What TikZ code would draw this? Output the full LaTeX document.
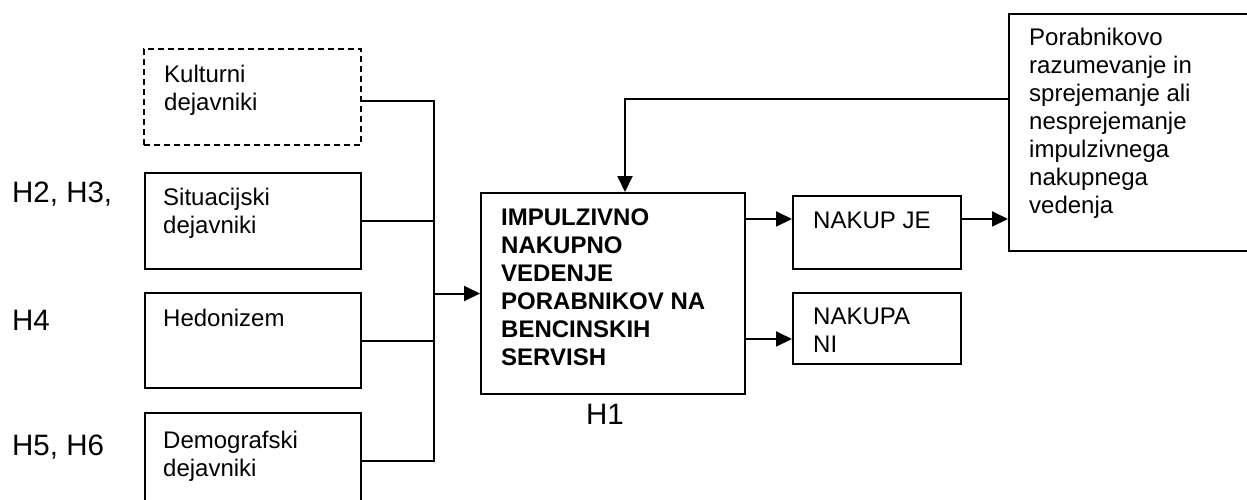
\documentclass[tikz,border=0pt]{standalone}
\usepackage{fontspec}
\setmainfont{Liberation Sans}
\usetikzlibrary{arrows.meta}
\begin{document}
\begin{tikzpicture}[x=1pt,y=-1pt,
 box/.style={draw, line width=2pt, inner sep=0pt, anchor=north west},
 txt/.style={anchor=north west, inner sep=0pt, align=left, font=\fontsize{24}{28}\selectfont},
 hlab/.style={anchor=base west, inner sep=0pt, font=\fontsize{29.5}{34}\selectfont},
 conn/.style={line width=2pt},
 arr/.style={conn, -{Triangle[length=16pt,width=15pt]}}]
\useasboundingbox (0,0) rectangle (1247,499);
\clip (0,0) rectangle (1247,499);
% boxes
\node[box, dash pattern=on 6pt off 4pt, minimum width=217pt, minimum height=96pt] (kult) at (143,48) {};
\node[box, minimum width=216pt, minimum height=96pt] (sit) at (144,172) {};
\node[box, minimum width=216pt, minimum height=95pt] (hed) at (144,292) {};
\node[box, minimum width=216pt, minimum height=96pt] (dem) at (144,412) {};
\node[box, minimum width=264pt, minimum height=201pt] (main) at (480,192) {};
\node[box, minimum width=168pt, minimum height=73pt] (je) at (792,195) {};
\node[box, minimum width=168pt, minimum height=71pt] (ni) at (792,292) {};
\node[box, minimum width=300pt, minimum height=237pt] (por) at (1008,13) {};
% texts
\node[txt] (tkult) at (164,65) {Kulturni\\dejavniki};
\node[txt] (tsit) at (163,188) {Situacijski\\dejavniki};
\node[txt] (thed) at (163,309) {Hedonizem};
\node[txt] (tdem) at (163,431) {Demografski\\dejavniki};
\node[txt, font=\fontsize{24}{28}\selectfont\bfseries] (tmain) at (501,209) {IMPULZIVNO\\NAKUPNO\\VEDENJE\\PORABNIKOV NA\\BENCINSKIH\\SERVISH};
\node[txt] (tje) at (813,212) {NAKUP JE};
\node[txt] (tni) at (813,308) {NAKUPA\\NI};
\node[txt] (tpor) at (1029,28) {Porabnikovo\\razumevanje in\\sprejemanje ali\\nesprejemanje\\impulzivnega\\nakupnega\\vedenja};
% hypothesis labels
\node[hlab] (h23) at (12,202) {H2, H3,};
\node[hlab] (h4) at (12,330) {H4};
\node[hlab] (h56) at (12,455) {H5, H6};
\node[hlab, anchor=base] (h1) at (605,424) {H1};
% connectors
\draw[conn] ([yshift=-4pt]kult.east) -- ++(72,0) coordinate (bt) -- (bt |- dem.east) -- (dem.east);
\draw[conn] (sit.east) -- (sit.east -| bt);
\draw[conn] (hed.east) -- (hed.east -| bt);
\draw[arr] (main.west -| bt) -- (main.west);
\path ([yshift=-27pt]main.north east) coordinate (o1);
\path ([yshift=-147pt]main.north east) coordinate (o2);
\draw[arr] (o1) -- (o1 -| je.west);
\draw[arr] (o2) -- (o2 -| ni.west);
\draw[arr] (o1 -| je.east) -- (o1 -| por.west);
\path ([yshift=-86pt]por.north west) coordinate (f1);
\draw[arr] (f1) -| ([xshift=12pt]main.north);
\end{tikzpicture}
\end{document}
